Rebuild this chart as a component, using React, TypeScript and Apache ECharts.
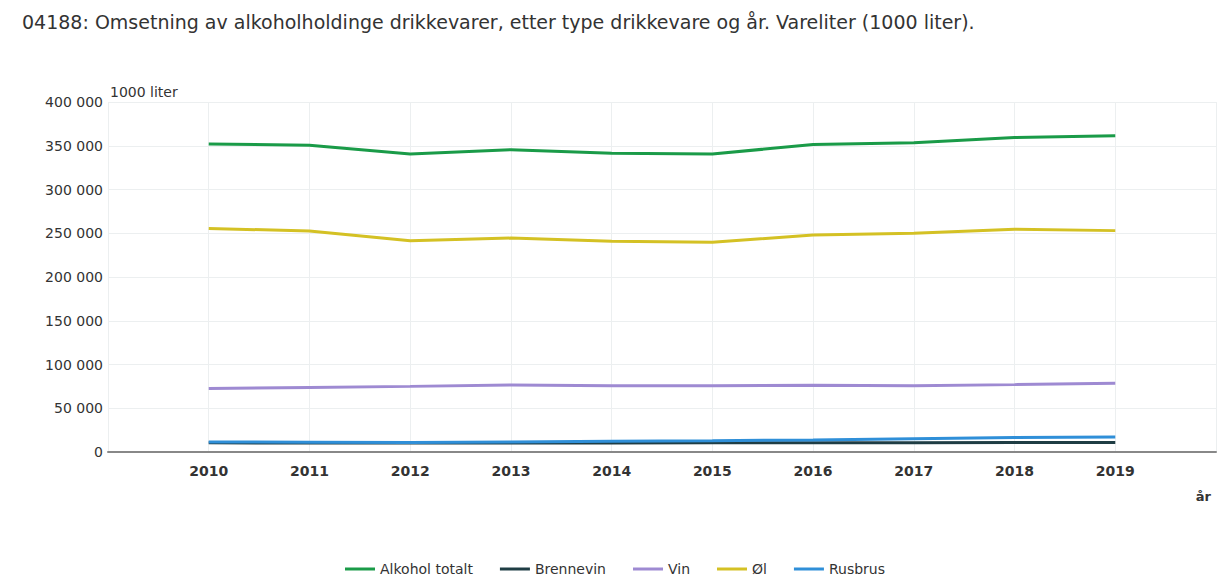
import React, { useEffect, useRef } from "react";
import * as echarts from "echarts";

const years = [2010, 2011, 2012, 2013, 2014, 2015, 2016, 2017, 2018, 2019];
const alkoholTotalt = [352000, 350500, 340500, 345500, 341500, 340500, 351500, 353500, 359500, 361500];
const brennevin = [10500, 10300, 10200, 10300, 10400, 10500, 10600, 10700, 10800, 10800];
const vin = [72500, 73800, 75000, 76500, 75800, 75800, 76300, 75800, 77000, 78500];
const ol = [255500, 252500, 241500, 244500, 240800, 239800, 248000, 250000, 254500, 253000];
const rusbrus = [11500, 11200, 11000, 11300, 12200, 12800, 13800, 15200, 16500, 17200];
const seriesNames = ["Alkohol totalt", "Brennevin", "Vin", "Øl", "Rusbrus"];
const colors = ["#1a9b48", "#1f3d44", "#9e8ad2", "#d4c124", "#2f8fd8"];
const yTicks = [0, 50000, 100000, 150000, 200000, 250000, 300000, 350000, 400000];

const FONT = "DejaVu Sans, Verdana, sans-serif";

const fmt = (v: number) => {
  const s = String(Math.round(v));
  return s.replace(/\B(?=(\d{3})+(?!\d))/g, " ");
};

export default function App() {
  const ref = useRef<HTMLDivElement>(null);
  useEffect(() => {
    document.body.style.margin = "0";
    document.body.style.overflow = "hidden";
    if (!ref.current) return;
    const chart = echarts.init(ref.current, undefined, { renderer: "svg" });
    const data = [alkoholTotalt, brennevin, vin, ol, rusbrus];
    chart.setOption({
      animation: false,
      backgroundColor: "#ffffff",
      textStyle: { fontFamily: FONT },
      title: {
        text: "04188: Omsetning av alkoholholdinge drikkevarer, etter type drikkevare og år. Vareliter (1000 liter).",
        left: 17,
        top: 7,
        textStyle: { fontSize: 19, fontWeight: "normal", color: "#333", fontFamily: FONT },
      },
      legend: {
        bottom: 1,
        left: 340,
        itemWidth: 30,
        itemHeight: 3,
        itemGap: 27,
        icon: "rect",
        textStyle: { fontSize: 14, color: "#333", fontFamily: FONT },
        data: seriesNames,
      },
      grid: { left: 108, right: 2, top: 102, bottom: 130 },
      xAxis: {
        type: "value",
        min: 2009,
        max: 2020,
        interval: 1,
        name: "år",
        nameLocation: "end",
        nameGap: 0,
        nameTextStyle: { fontSize: 13, fontWeight: "bold", color: "#333", align: "right", verticalAlign: "top", padding: [38, 5, 0, 0], fontFamily: FONT },
        axisLine: { show: true, lineStyle: { color: "#888", width: 2 } },
        axisTick: { show: false },
        axisLabel: {
          fontSize: 14,
          fontWeight: "bold",
          color: "#333",
          margin: 12,
          fontFamily: FONT,
          formatter: (v: number) => (years.indexOf(v) >= 0 ? String(v) : ""),
        },
        splitLine: { show: true, lineStyle: { color: "#eceff0", width: 1 } },
      },
      yAxis: {
        type: "value",
        min: 0,
        max: 400000,
        interval: 50000,
        name: "1000 liter",
        nameLocation: "end",
        nameGap: 3,
        nameTextStyle: { fontSize: 14, color: "#333", align: "left", padding: [0, 0, 0, 2], fontFamily: FONT },
        axisLine: { show: false },
        axisTick: { show: false },
        axisLabel: {
          fontSize: 14,
          color: "#333",
          margin: 5,
          fontFamily: FONT,
          formatter: (v: number) => (yTicks.indexOf(v) >= 0 ? fmt(v) : ""),
        },
        splitLine: { show: true, lineStyle: { color: "#eceff0", width: 1 } },
      },
      series: seriesNames.map((name, i) => ({
        name,
        type: "line",
        data: years.map((y, j) => [y, data[i][j]]),
        showSymbol: false,
        symbol: "none",
        lineStyle: { width: 3, color: colors[i] },
        itemStyle: { color: colors[i] },
        z: i === 4 ? 5 : 3,
      })),
    });
    return () => chart.dispose();
  }, []);
  return <div ref={ref} style={{ width: 1219, height: 582 }} />;
}
